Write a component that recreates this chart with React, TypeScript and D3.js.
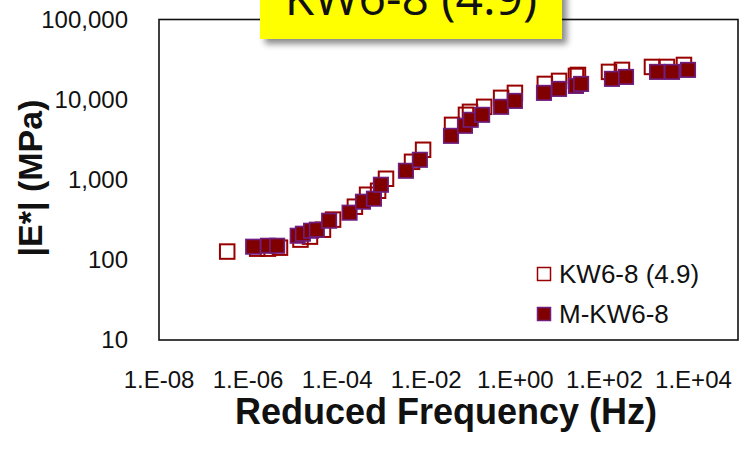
import React from "react";
import * as d3 from "d3";

// Dynamic modulus master curve: |E*| vs reduced frequency, two mixes
const WIDTH = 739;
const HEIGHT = 455;

const xTickValues = [1e-8, 1e-6, 1e-4, 1e-2, 1, 1e2, 1e4];
const xTickLabels = ["1.E-08", "1.E-06", "1.E-04", "1.E-02", "1.E+00", "1.E+02", "1.E+04"];
const yTickValues = [10, 100, 1000, 10000, 100000];
const yTickLabels = ["10", "100", "1,000", "10,000", "100,000"];

const seriesNames = ["KW6-8 (4.9)", "M-KW6-8"];
const chartTitle = "KW6-8 (4.9)";

// KW6-8 (4.9): reduced frequency (Hz) and |E*| (MPa)
const kwFreq = [
  3.4e-7, 1.6e-6, 2.8e-6, 5.2e-6, 1.5e-5, 2.45e-5, 4.8e-5, 8.1e-5, 2.5e-4, 4.7e-4,
  8.3e-4, 1.25e-3, 4.8e-3, 8.5e-3, 0.038, 0.078, 0.096, 0.2, 0.48, 0.98,
  4.6, 9.6, 23, 25.5, 127, 248, 1170, 2540, 6120,
];
const kwModulus = [
  127, 138, 138, 142, 179, 195, 238, 318, 461, 650,
  729, 1029, 1675, 2366, 4840, 6460, 7040, 8130, 10520, 12140,
  15700, 17130, 19770, 20330, 22190, 23500, 25590, 25590, 27100,
];

// M-KW6-8: reduced frequency (Hz) and |E*| (MPa)
const mkwFreq = [
  1.3e-6, 2.8e-6, 4.5e-6, 1.3e-5, 1.7e-5, 2.6e-5, 3.5e-5, 6.6e-5, 1.9e-4, 3.8e-4,
  6.7e-4, 9.6e-4, 3.5e-3, 7.2e-3, 0.036, 0.074, 0.1, 0.18, 0.48, 0.98,
  4.4, 9.6, 23, 30, 148, 306, 1520, 3300, 7540,
];
const mkwModulus = [
  146, 150, 150, 200, 212, 231, 238, 308, 388, 532,
  580, 866, 1294, 1774, 3532, 4710, 5600, 6460, 8130, 9640,
  12140, 13610, 14830, 15710, 18160, 19200, 22190, 22190, 23500,
];

const plot = { left: 159, top: 19.5, right: 738, bottom: 340 };
const MARK = 14.5;
const FONT = "'Liberation Sans', Arial, sans-serif";

export default function App() {
  const x = d3.scaleLog().domain([1e-8, 1e5]).range([plot.left, plot.right]);
  const y = d3.scaleLog().domain([10, 100000]).range([plot.bottom, plot.top]);

  const kwPoints = kwFreq.map((f, i) => ({ f, e: kwModulus[i] }));
  const mkwPoints = mkwFreq.map((f, i) => ({ f, e: mkwModulus[i] }));

  return (
    <svg
      width={WIDTH}
      height={HEIGHT}
      viewBox={`0 0 ${WIDTH} ${HEIGHT}`}
      style={{ position: "absolute", left: 0, top: 0, background: "#fff" }}
    >
      <defs>
        <filter id="titleShadow" x="-10%" y="-50%" width="130%" height="220%">
          <feDropShadow dx="5" dy="5" stdDeviation="3" floodColor="#000" floodOpacity="0.45" />
        </filter>
        <clipPath id="plotClip">
          <rect x={plot.left} y={plot.top} width={plot.right - plot.left} height={plot.bottom - plot.top} />
        </clipPath>
      </defs>

      {/* plot frame */}
      <rect
        x={plot.left}
        y={plot.top}
        width={plot.right - plot.left}
        height={plot.bottom - plot.top}
        fill="#fff"
        stroke="#111"
        strokeWidth={1.6}
      />

      {/* y tick labels */}
      {yTickValues.map((v, i) => (
        <text
          key={`y${v}`}
          x={128}
          y={y(v)}
          dy="0.35em"
          textAnchor="end"
          fontFamily={FONT}
          fontSize={24}
          fill="#111"
        >
          {yTickLabels[i]}
        </text>
      ))}

      {/* x tick labels */}
      {xTickValues.map((v, i) => (
        <text
          key={`x${v}`}
          x={x(v)}
          y={388}
          textAnchor="middle"
          fontFamily={FONT}
          fontSize={24}
          fill="#111"
        >
          {xTickLabels[i]}
        </text>
      ))}

      {/* axis titles */}
      <text
        x={446}
        y={424}
        textAnchor="middle"
        fontFamily={FONT}
        fontSize={36}
        fontWeight="bold"
        fill="#111"
      >
        Reduced Frequency (Hz)
      </text>
      <text
        transform={`translate(42, 178) rotate(-90)`}
        textAnchor="middle"
        fontFamily={FONT}
        fontSize={34}
        fontWeight="bold"
        fill="#111"
      >
        |E*| (MPa)
      </text>

      {/* data */}
      <g clipPath="url(#plotClip)">
        {kwPoints.map((p, i) => (
          <rect
            key={`kw${i}`}
            x={x(p.f) - MARK / 2}
            y={y(p.e) - MARK / 2}
            width={MARK}
            height={MARK}
            fill="none"
            stroke="#990000"
            strokeWidth={2}
          />
        ))}
        {mkwPoints.map((p, i) => (
          <rect
            key={`mkw${i}`}
            x={x(p.f) - MARK / 2}
            y={y(p.e) - MARK / 2}
            width={MARK}
            height={MARK}
            fill="#800000"
            stroke="#6f1f80"
            strokeWidth={1.6}
          />
        ))}
      </g>

      {/* legend */}
      <g fontFamily={FONT} fontSize={26} fill="#111">
        <rect x={537.5} y={267.5} width={13} height={13} fill="#fff" stroke="#990000" strokeWidth={1.5} />
        <text x={559} y={283}>{seriesNames[0]}</text>
        <rect x={537.5} y={307.5} width={13} height={13} fill="#800000" stroke="#6f1f80" strokeWidth={1.5} />
        <text x={559} y={323}>{seriesNames[1]}</text>
      </g>

      {/* title box, clipped by the top edge */}
      <rect x={260} y={-20} width={302} height={59} fill="#ffff00" filter="url(#titleShadow)" />
      <text
        x={411}
        y={15}
        textAnchor="middle"
        fontFamily="'Open Sans', sans-serif"
        fontSize={48}
        fill="#111"
      >
        {chartTitle}
      </text>
    </svg>
  );
}
